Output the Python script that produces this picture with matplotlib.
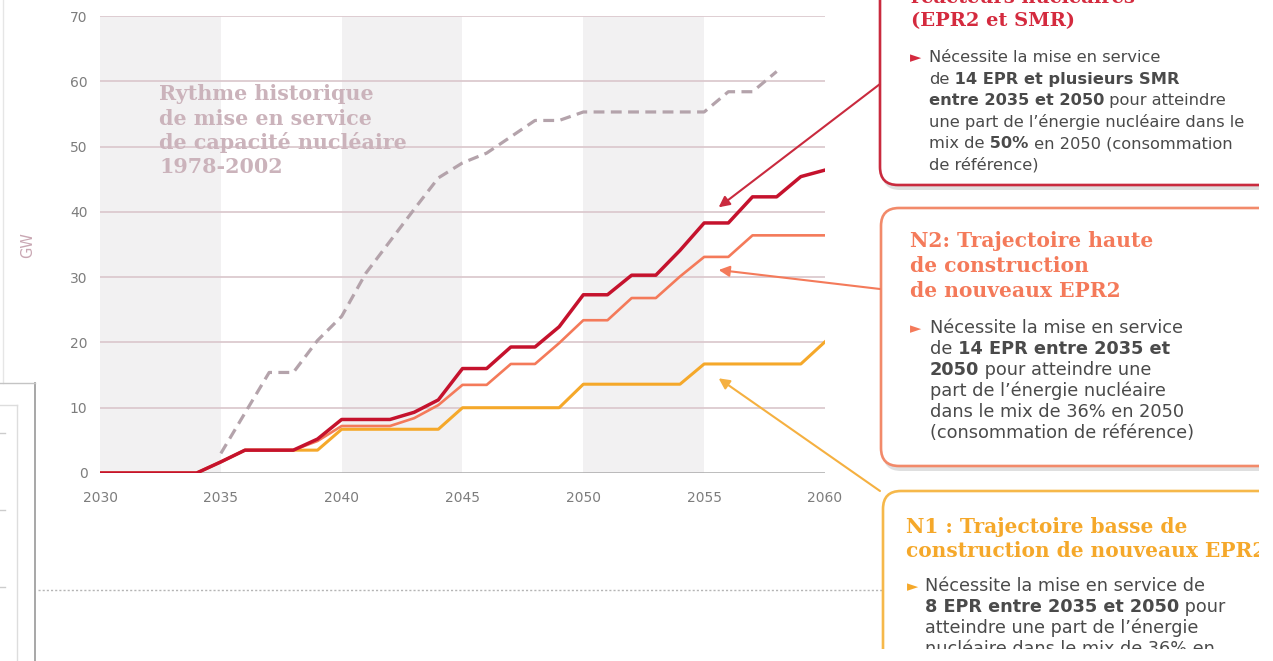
import matplotlib
matplotlib.use("Agg")
import matplotlib.pyplot as plt
from matplotlib.patches import FancyBboxPatch, Rectangle
from matplotlib.lines import Line2D

# ---------------- data ----------------
years = list(range(2030, 2061))
n03_gw = [0, 0, 0, 0, 0, 1.7, 3.5, 3.5, 3.5, 5.2, 8.2, 8.2, 8.2, 9.3, 11.2,
          16.0, 16.0, 19.3, 19.3, 22.4, 27.3, 27.3, 30.3, 30.3, 34.1, 38.3, 38.3,
          42.3, 42.3, 45.4, 46.4]
n2_gw = [0, 0, 0, 0, 0, 1.7, 3.5, 3.5, 3.5, 4.9, 7.2, 7.2, 7.2, 8.4, 10.4,
         13.5, 13.5, 16.7, 16.7, 19.9, 23.4, 23.4, 26.8, 26.8, 30.1, 33.1, 33.1,
         36.4, 36.4, 36.4, 36.4]
n1_gw = [0, 0, 0, 0, 0, 1.7, 3.5, 3.5, 3.5, 3.5, 6.7, 6.7, 6.7, 6.7, 6.7,
         10.0, 10.0, 10.0, 10.0, 10.0, 13.6, 13.6, 13.6, 13.6, 13.6, 16.7, 16.7,
         16.7, 16.7, 16.7, 20.1]
hist_years = list(range(2035, 2059))
hist_gw = [3.0, 9.2, 15.4, 15.4, 20.3, 24.0, 30.6, 35.5, 40.4, 45.2, 47.5, 49.0,
           51.5, 54.0, 54.0, 55.3, 55.3, 55.3, 55.3, 55.3, 55.3, 58.4, 58.4, 61.5]
x_ticks = [2030, 2035, 2040, 2045, 2050, 2055, 2060]
y_ticks = [0, 10, 20, 30, 40, 50, 60, 70]
shaded_periods = [(2030, 2035), (2040, 2045), (2050, 2055)]
hist_label = ["Rythme historique", "de mise en service",
              "de capacité nucléaire", "1978-2002"]
y_label = "GW"

# arrow targets (data coords)
arrow_n03 = (2055.6, 40.7)
arrow_n2 = (2055.6, 31.1)
arrow_n1 = (2055.6, 14.5)

# colours
C_N03 = "#c5122d"
C_N2 = "#f47a5a"
C_N1 = "#f5a82a"
C_HIST = "#b4a3ab"

W, H = 1273, 661
fig = plt.figure(figsize=(W / 100, H / 100), dpi=100)
fig.patch.set_facecolor("white")

# main chart axes (pixel box 100..825 x 16..473)
ax = fig.add_axes([100 / W, 1 - 473 / H, (825 - 100) / W, (473 - 16) / H])
ax.set_xlim(2030, 2060)
ax.set_ylim(0, 70)
ax.patch.set_alpha(0)
for a, b in shaded_periods:
    ax.axvspan(a, b, color="#f2f1f2", lw=0, zorder=0)
for v in y_ticks[1:]:
    ax.axhline(v, color="#dccacf", lw=1.3, zorder=1)
ax.axhline(0, color="#a9a9a9", lw=1.8, zorder=1)
for s in ax.spines.values():
    s.set_visible(False)
ax.set_xticks(x_ticks)
ax.set_yticks(y_ticks)
ax.tick_params(length=0, labelsize=10, labelcolor="#7d7d7d")
ax.tick_params(axis="y", pad=9)
ax.tick_params(axis="x", pad=13)

ax.plot(hist_years, hist_gw, color=C_HIST, lw=2.3, dashes=(3.4, 2.0), zorder=2)
ax.plot(years, n1_gw, color=C_N1, lw=2.2, zorder=3)
ax.plot(years, n2_gw, color=C_N2, lw=1.9, zorder=4)
ax.plot(years, n03_gw, color=C_N03, lw=2.5, zorder=5)

# historical label (baselines in pixels 100,125,149,173)
for i, line in enumerate(hist_label):
    ypx = [100, 125, 149, 173][i]
    ax.text(2032.45, (473 - ypx) / 6.53, line, family="DejaVu Serif",
            fontweight="bold", fontsize=14.9, color="#cbb3bb",
            ha="left", va="baseline", zorder=6)

# ---------------- overlay in pixel units ----------------
ov = fig.add_axes([0, 0, 1, 1], zorder=10)
ov.set_xlim(0, W)
ov.set_ylim(H, 0)
ov.axis("off")
ov.patch.set_alpha(0)

ov.text(28, 245, y_label, rotation=90, color="#c9a7b3", fontsize=10.5,
        ha="center", va="center")

# left decorations
def seg(x0, y0, x1, y1, **kw):
    ov.add_line(Line2D([x0, x1], [y0, y1], **kw))

seg(3, 0, 3, 383, color="#e6e6e6", lw=1.0)
seg(35, 383, 35, 661, color="#a0a0a0", lw=1.3)
seg(0, 383, 35, 383, color="#c4c4c4", lw=1.0)
seg(17, 405, 17, 661, color="#dddddd", lw=1.0)
seg(0, 405, 17, 405, color="#dddddd", lw=1.0)
for yy in (433, 510, 587):
    seg(0, yy, 5, yy, color="#cccccc", lw=1.0)
seg(38, 590, 1273, 590, color="#b5b5b5", lw=1.0, dashes=(1.5, 1.5))


def box(x0, y0, x1, y1, color):
    sh = FancyBboxPatch((x0 + 2, y0 + 5), x1 - x0, y1 - y0,
                        boxstyle="round,pad=0,rounding_size=18",
                        fc="#d2d2d2", ec="none", alpha=0.7, zorder=1)
    ov.add_patch(sh)
    p = FancyBboxPatch((x0, y0), x1 - x0, y1 - y0,
                       boxstyle="round,pad=0,rounding_size=18",
                       fc="white", ec=color, lw=1.9, zorder=2)
    ov.add_patch(p)


box(880, -60, 1310, 185, "#c92a3e")
box(881, 208, 1310, 466, "#f28a6a")
box(883, 491, 1310, 720, "#f6b84a")

TXT = "#4a4a4a"


def rich(x, y, segs, size, color=TXT):
    prev = None
    for txt, bold in segs:
        kw = dict(fontsize=size, color=color, family="DejaVu Sans",
                  fontweight="bold" if bold else "normal", zorder=5)
        if prev is None:
            prev = ov.text(x, y, txt, ha="left", va="baseline", **kw)
        else:
            prev = ov.annotate(txt, xy=(1, 0), xycoords=prev,
                               ha="left", va="bottom", **kw)


def title(x, baselines, lines, color, size):
    for yb, ln in zip(baselines, lines):
        ov.text(x, yb, ln, family="DejaVu Serif", fontweight="bold",
                fontsize=size, color=color, ha="left", va="baseline", zorder=5)


def bullet(x, y, color, size):
    ov.text(x, y, "►", fontsize=size, color=color, ha="left",
            va="baseline", family="DejaVu Sans", zorder=5)


# Box 1 (N03)
title(911, [3, 26], ["réacteurs nucléaires", "(EPR2 et SMR)"], "#d42a3e", 14)
b1 = [
    [("Nécessite la mise en service", False)],
    [("de", False), (" 14 EPR et plusieurs SMR", True)],
    [("entre 2035 et 2050", True), (" pour atteindre", False)],
    [("une part de l’énergie nucléaire dans le", False)],
    [("mix de", False), (" 50%", True), (" en 2050 (consommation", False)],
    [("de référence)", False)],
]
bullet(910, 62, "#d42a3e", 10.5)
for i, l in enumerate(b1):
    rich(929, 62 + i * 21.6, l, 11.7)

# Box 2 (N2)
title(910, [247, 272, 297], ["N2: Trajectoire haute", "de construction",
                             "de nouveaux EPR2"], C_N2, 14.6)
b2 = [
    [("Nécessite la mise en service", False)],
    [("de", False), (" 14 EPR entre 2035 et", True)],
    [("2050", True), (" pour atteindre une", False)],
    [("part de l’énergie nucléaire", False)],
    [("dans le mix de 36% en 2050", False)],
    [("(consommation de référence)", False)],
]
bullet(910, 333, C_N2, 10.5)
for i, l in enumerate(b2):
    rich(930, 333 + i * 21.0, l, 12.8)

# Box 3 (N1)
title(906, [533, 557], ["N1 : Trajectoire basse de",
                        "construction de nouveaux EPR2"], C_N1, 14.5)
b3 = [
    [("Nécessite la mise en service de", False)],
    [("8 EPR entre 2035 et 2050", True), (" pour", False)],
    [("atteindre une part de l’énergie", False)],
    [("nucléaire dans le mix de 36% en", False)],
]
bullet(907, 591, C_N1, 10.5)
for i, l in enumerate(b3):
    rich(925, 591 + i * 21.0, l, 12.7)

# cropping strips
ov.add_patch(Rectangle((850, 649), W - 850, 20, fc="white", ec="none", zorder=8))
ov.add_patch(Rectangle((1259, -5), 30, H + 10, fc="white", ec="none", zorder=8))

# arrows
for tgt, start, col in [(arrow_n03, (880, 84), "#c92a3e"),
                        (arrow_n2, (880, 289), C_N2),
                        (arrow_n1, (880, 491), "#f5b040")]:
    ov.annotate("", xy=tgt, xycoords=ax.transData, xytext=start,
                textcoords=ov.transData,
                arrowprops=dict(arrowstyle="-|>", color=col, lw=1.5,
                                mutation_scale=16, shrinkA=0, shrinkB=0),
                zorder=9)

fig.savefig("out.png", dpi=100)
